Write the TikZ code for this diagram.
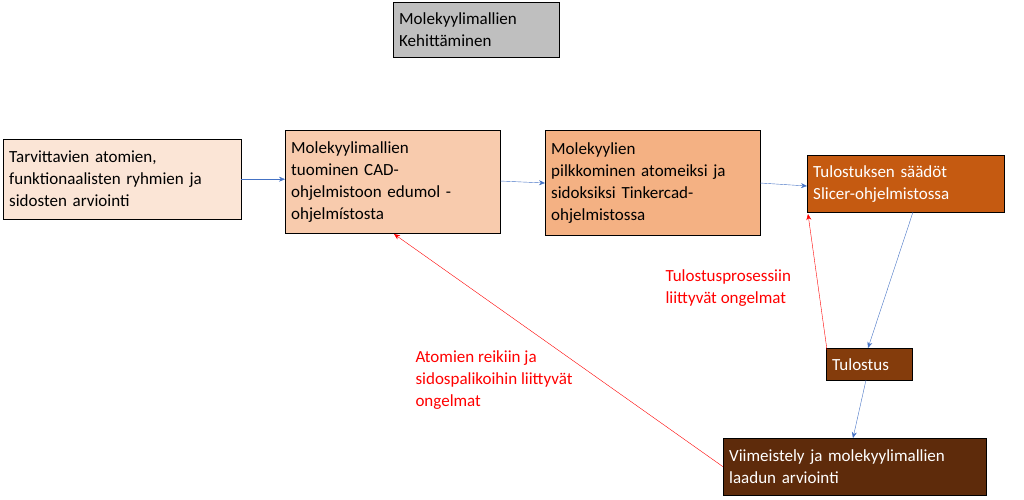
\documentclass[tikz,border=0pt]{standalone}
\usepackage{fontspec}
\setmainfont{Carlito}
\usetikzlibrary{arrows.meta}
\definecolor{boxa}{HTML}{FBE5D6}
\definecolor{boxb}{HTML}{F8CBAD}
\definecolor{boxc}{HTML}{F4B183}
\definecolor{boxd}{HTML}{C55A11}
\definecolor{boxe}{HTML}{843C0C}
\definecolor{boxf}{HTML}{5E2B0B}
\definecolor{flow}{HTML}{4472C4}
\tikzset{
  stage/.style={draw=black,anchor=north west,align=left,inner sep=6pt,
    font=\fontsize{17}{22}\selectfont},
  flowarrow/.style={draw=flow,-{Stealth[length=6pt,width=5pt]}},
  backarrow/.style={draw=red,-{Stealth[length=6pt,width=5pt]}},
  note/.style={text=red,align=left,anchor=north west,font=\fontsize{17}{22}\selectfont}
}
\begin{document}
\begin{tikzpicture}[x=1pt,y=-1pt]
\useasboundingbox (0,0) rectangle (1024,499);

\node[stage,fill=gray!50,minimum width=166pt,minimum height=55pt,text width=154pt] (title) at (393,2) {Molekyylimallien\\Kehittäminen};

\node[stage,fill=boxa,minimum width=238pt,minimum height=80pt,text width=226pt] (b1) at (3,139) {Tarvittavien atomien,\\funktionaalisten ryhmien ja\\sidosten arviointi};
\node[stage,fill=boxb,minimum width=215pt,minimum height=103pt,text width=203pt] (b2) at (285,130) {Molekyylimallien\\tuominen CAD-\\ohjelmistoon edumol -\\ohjelmístosta};
\node[stage,fill=boxc,minimum width=215pt,minimum height=105pt,text width=203pt] (b3) at (545,130) {Molekyylien\\pilkkominen atomeiksi ja\\sidoksiksi Tinkercad-\\ohjelmistossa};
\node[stage,fill=boxd,text=white,minimum width=197pt,minimum height=57pt,text width=185pt] (b4) at (807,155) {Tulostuksen säädöt\\Slicer-ohjelmistossa};
\node[stage,fill=boxe,text=white,minimum width=86pt,minimum height=32pt,text width=74pt] (b5) at (826,348) {Tulostus};
\node[stage,fill=boxf,text=white,minimum width=263pt,minimum height=57pt,text width=251pt] (b6) at (723,438) {Viimeistely ja molekyylimallien\\laadun arviointi};

\draw[flowarrow] (b1.east) -- (b2.west |- b1.east);
\draw[flowarrow] (500,181) -- (545,183);
\draw[flowarrow] (760,183) -- (807,186);
\draw[flowarrow] (913,212) -- (868,348);
\draw[flowarrow] (866,380) -- (853,438);

\draw[backarrow] (827,350) -- (808,214);
\draw[backarrow] (b6.west) -- (394,234);

\node[note] (n1) at (662,266) {Tulostusprosessiin\\liittyvät ongelmat};
\node[note] (n2) at (412,347) {Atomien reikiin ja\\sidospalikoihin liittyvät\\ongelmat};
\end{tikzpicture}
\end{document}
